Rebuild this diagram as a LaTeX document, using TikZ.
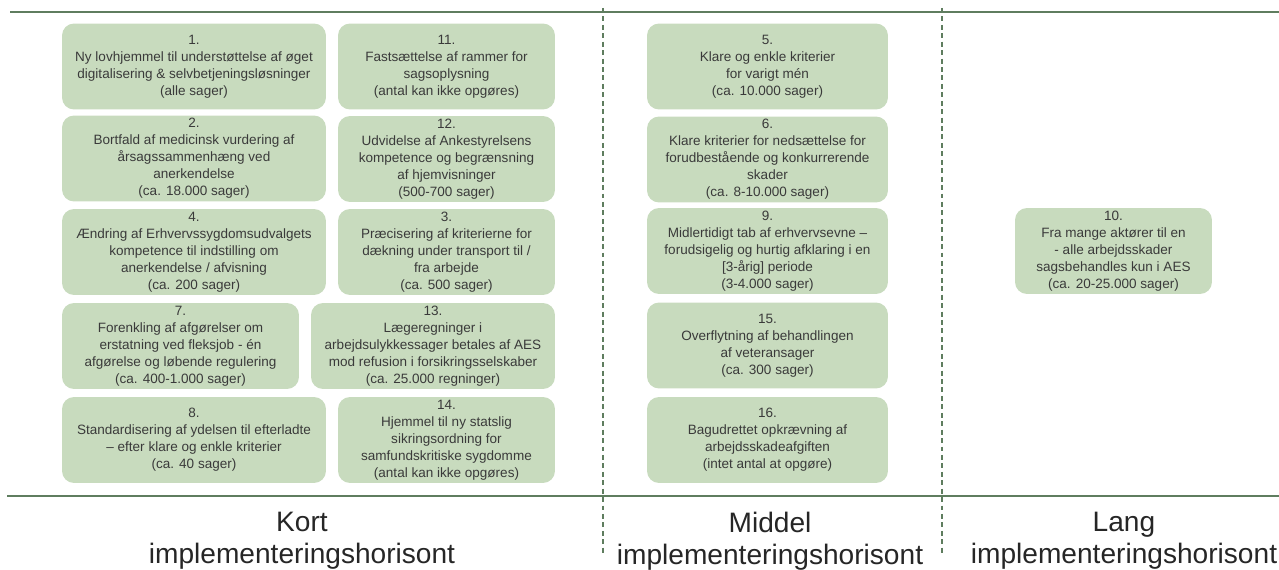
\documentclass[tikz,border=0pt]{standalone}
\usepackage{fontspec}
\setmainfont{Liberation Sans}
\definecolor{tiltaggroen}{RGB}{200,219,190}
\definecolor{linjegroen}{RGB}{95,125,95}
\definecolor{tekstgraa}{RGB}{58,58,58}

\begin{document}
\begin{tikzpicture}[
    x=0.02cm, y=-0.02cm,
    tiltag/.style={rectangle, fill=tiltaggroen, text=tekstgraa, align=center, rounded corners=0.24cm, minimum height=1.72cm, inner sep=0pt, font=\fontsize{7.7}{9.7}\selectfont},
    bred/.style={tiltag, minimum width=5.28cm},
    smal/.style={tiltag, minimum width=4.34cm},
    midt/.style={tiltag, minimum width=4.82cm},
    horisont/.style={anchor=north, align=center, inner sep=0pt, text=black!85, font=\fontsize{16}{18.2}\selectfont}
]
\useasboundingbox (0,0) rectangle (1279,570);

% Rammer
\draw[linjegroen, line width=1.1pt] (10,12) -- (1279,12);
\draw[linjegroen, line width=1.1pt] (7,496) -- (1279,496);
\draw[linjegroen, line width=0.85pt, dash pattern=on 2.8pt off 2pt] (603,8) -- (603,556);
\draw[linjegroen, line width=0.85pt, dash pattern=on 2.8pt off 2pt] (942,8) -- (942,556);

% Kort horisont
\node[bred] (t1) at (194,66.5) {1.\\Ny lovhjemmel til understøttelse af øget\\digitalisering \& selvbetjeningsløsninger\\(alle sager)};
\node[smal] (t11) at (446.5,66.5) {11.\\Fastsættelse af rammer for\\sagsoplysning\\(antal kan ikke opgøres)};
\node[bred] (t2) at (194,158.5) {2.\\Bortfald af medicinsk vurdering af\\årsagssammenhæng ved\\anerkendelse\\(ca. 18.000 sager)};
\node[smal] (t12) at (446.5,159) {12.\\Udvidelse af Ankestyrelsens\\kompetence og begrænsning\\af hjemvisninger\\(500-700 sager)};
\node[bred] (t4) at (194,252) {4.\\Ændring af Erhvervssygdomsudvalgets\\kompetence til indstilling om\\anerkendelse / afvisning\\(ca. 200 sager)};
\node[smal] (t3) at (446.5,252) {3.\\Præcisering af kriterierne for\\dækning under transport til /\\fra arbejde\\(ca. 500 sager)};
\node[tiltag, minimum width=4.74cm] (t7) at (180.5,346) {7.\\Forenkling af afgørelser om\\erstatning ved fleksjob - én\\afgørelse og løbende regulering\\(ca. 400-1.000 sager)};
\node[tiltag, minimum width=4.88cm] (t13) at (433,346) {13.\\Lægeregninger i\\arbejdsulykkessager betales af AES\\mod refusion i forsikringsselskaber\\(ca. 25.000 regninger)};
\node[bred] (t8) at (194,440) {8.\\Standardisering af ydelsen til efterladte\\– efter klare og enkle kriterier\\(ca. 40 sager)};
\node[smal] (t14) at (446.5,440) {14.\\Hjemmel til ny statslig\\sikringsordning for\\samfundskritiske sygdomme\\(antal kan ikke opgøres)};

% Middel horisont
\node[midt] (t5) at (767.5,66.5) {5.\\Klare og enkle kriterier\\for varigt mén\\(ca. 10.000 sager)};
\node[midt] (t6) at (767.5,159.5) {6.\\Klare kriterier for nedsættelse for\\forudbestående og konkurrerende\\skader\\(ca. 8-10.000 sager)};
\node[midt] (t9) at (767.5,251) {9.\\Midlertidigt tab af erhvervsevne –\\forudsigelig og hurtig afklaring i en\\{[3-årig]} periode\\(3-4.000 sager)};
\node[midt] (t15) at (767.5,345.5) {15.\\Overflytning af behandlingen\\af veteransager\\(ca. 300 sager)};
\node[midt] (t16) at (767.5,440) {16.\\Bagudrettet opkrævning af\\arbejdsskadeafgiften\\(intet antal at opgøre)};

% Lang horisont
\node[tiltag, minimum width=3.94cm] (t10) at (1113.5,251) {10.\\Fra mange aktører til en\\- alle arbejdsskader\\sagsbehandles kun i AES\\(ca. 20-25.000 sager)};

% Labels
\node[horisont] (kort) at (302,512) {Kort\\implementeringshorisont};
\node[horisont] (middel) at (770,512) {Middel\\implementeringshorisont};
\node[horisont] (lang) at (1124,512) {Lang\\implementeringshorisont};

\end{tikzpicture}
\end{document}
